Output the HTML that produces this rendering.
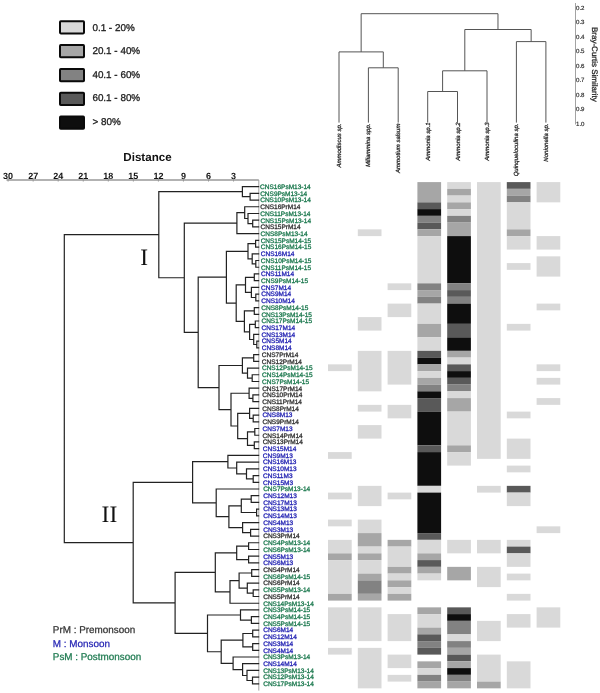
<!DOCTYPE html>
<html><head><meta charset="utf-8"><title>Foraminifera cluster heatmap</title>
<style>
html,body{margin:0;padding:0;background:#fff;}
body{width:600px;height:693px;overflow:hidden;}
svg{display:block;will-change:transform;text-rendering:geometricPrecision;font-family:"Liberation Sans",sans-serif;}
.serif{font-family:"Liberation Serif",serif;}
</style></head><body>
<svg width="600" height="693" viewBox="0 0 600 693">
<rect width="600" height="693" fill="#fff"/>
<rect x="60" y="21.2" width="24" height="12.2" rx="0.8" fill="#d9d9d9" stroke="#0a0a0a" stroke-width="2"/>
<text x="92.4" y="30.6" font-size="9.9" fill="#222" stroke="#222" stroke-width="0.3">0.1 - 20%</text>
<rect x="60" y="45.1" width="24" height="12.2" rx="0.8" fill="#a6a6a6" stroke="#0a0a0a" stroke-width="2"/>
<text x="92.4" y="53.5" font-size="9.9" fill="#222" stroke="#222" stroke-width="0.3">20.1 - 40%</text>
<rect x="60" y="69" width="24" height="12.2" rx="0.8" fill="#828282" stroke="#0a0a0a" stroke-width="2"/>
<text x="92.4" y="78.4" font-size="9.9" fill="#222" stroke="#222" stroke-width="0.3">40.1 - 60%</text>
<rect x="60" y="92.8" width="24" height="12.2" rx="0.8" fill="#595959" stroke="#0a0a0a" stroke-width="2"/>
<text x="92.4" y="101.1" font-size="9.9" fill="#222" stroke="#222" stroke-width="0.3">60.1 - 80%</text>
<rect x="60" y="116.6" width="24" height="12.2" rx="0.8" fill="#0e0e0e" stroke="#0a0a0a" stroke-width="2"/>
<text x="92.4" y="125.4" font-size="9.9" fill="#222" stroke="#222" stroke-width="0.3">&gt; 80%</text>
<text x="123.3" y="160.8" font-size="11.6" font-weight="bold" fill="#111">Distance</text>
<text x="8.1" y="179.1" font-size="9" font-weight="bold" text-anchor="middle" fill="#111">30</text>
<line x1="8.1" y1="177.8" x2="8.1" y2="181.5" stroke="#777" stroke-width="0.8"/>
<text x="33.15" y="179.1" font-size="9" font-weight="bold" text-anchor="middle" fill="#111">27</text>
<line x1="33.15" y1="177.8" x2="33.15" y2="181.5" stroke="#777" stroke-width="0.8"/>
<text x="58.2" y="179.1" font-size="9" font-weight="bold" text-anchor="middle" fill="#111">24</text>
<line x1="58.2" y1="177.8" x2="58.2" y2="181.5" stroke="#777" stroke-width="0.8"/>
<text x="83.25" y="179.1" font-size="9" font-weight="bold" text-anchor="middle" fill="#111">21</text>
<line x1="83.25" y1="177.8" x2="83.25" y2="181.5" stroke="#777" stroke-width="0.8"/>
<text x="108.3" y="179.1" font-size="9" font-weight="bold" text-anchor="middle" fill="#111">18</text>
<line x1="108.3" y1="177.8" x2="108.3" y2="181.5" stroke="#777" stroke-width="0.8"/>
<text x="133.35" y="179.1" font-size="9" font-weight="bold" text-anchor="middle" fill="#111">15</text>
<line x1="133.35" y1="177.8" x2="133.35" y2="181.5" stroke="#777" stroke-width="0.8"/>
<text x="158.4" y="179.1" font-size="9" font-weight="bold" text-anchor="middle" fill="#111">12</text>
<line x1="158.4" y1="177.8" x2="158.4" y2="181.5" stroke="#777" stroke-width="0.8"/>
<text x="183.45" y="179.1" font-size="9" font-weight="bold" text-anchor="middle" fill="#111">9</text>
<line x1="183.45" y1="177.8" x2="183.45" y2="181.5" stroke="#777" stroke-width="0.8"/>
<text x="208.5" y="179.1" font-size="9" font-weight="bold" text-anchor="middle" fill="#111">6</text>
<line x1="208.5" y1="177.8" x2="208.5" y2="181.5" stroke="#777" stroke-width="0.8"/>
<text x="233.55" y="179.1" font-size="9" font-weight="bold" text-anchor="middle" fill="#111">3</text>
<line x1="233.55" y1="177.8" x2="233.55" y2="181.5" stroke="#777" stroke-width="0.8"/>
<line x1="6.5" y1="180" x2="258.8" y2="180" stroke="#999" stroke-width="1.3"/>
<line x1="258.8" y1="180" x2="258.8" y2="690.6" stroke="#9a9a9a" stroke-width="0.9"/>
<path d="M250.1 193.32L250.1 200.04M250.1 193.32L258.6 193.32M250.1 200.04L258.6 200.04M242.4 186.6L242.4 196.68M242.4 186.6L258.6 186.6M242.4 196.68L250.1 196.68M252.7 220.2L252.7 226.92M252.7 220.2L258.6 220.2M252.7 226.92L258.6 226.92M248 213.48L248 223.56M248 213.48L258.6 213.48M248 223.56L252.7 223.56M244.7 206.76L244.7 218.52M244.7 206.76L258.6 206.76M244.7 218.52L248 218.52M236.9 212.64L236.9 233.64M236.9 212.64L244.7 212.64M236.9 233.64L258.6 233.64M255.6 240.36L255.6 247.08M255.6 240.36L258.6 240.36M255.6 247.08L258.6 247.08M255.8 260.52L255.8 267.24M255.8 260.52L258.6 260.52M255.8 267.24L258.6 267.24M252.2 253.8L252.2 263.88M252.2 253.8L258.6 253.8M252.2 263.88L255.8 263.88M248 243.72L248 258.84M248 243.72L255.6 243.72M248 258.84L252.2 258.84M254.3 273.96L254.3 280.68M254.3 273.96L258.6 273.96M254.3 280.68L258.6 280.68M255.8 294.12L255.8 300.84M255.8 294.12L258.6 294.12M255.8 300.84L258.6 300.84M251.4 287.4L251.4 297.48M251.4 287.4L258.6 287.4M251.4 297.48L255.8 297.48M245.5 277.32L245.5 292.44M245.5 277.32L254.3 277.32M245.5 292.44L251.4 292.44M254.3 307.56L254.3 314.28M254.3 307.56L258.6 307.56M254.3 314.28L258.6 314.28M255.3 321L255.3 327.72M255.3 321L258.6 321M255.3 327.72L258.6 327.72M256.8 341.16L256.8 347.88M256.8 341.16L258.6 341.16M256.8 347.88L258.6 347.88M253.7 334.44L253.7 344.52M253.7 334.44L258.6 334.44M253.7 344.52L256.8 344.52M249.6 324.36L249.6 339.48M249.6 324.36L255.3 324.36M249.6 339.48L253.7 339.48M244.4 310.92L244.4 331.92M244.4 310.92L254.3 310.92M244.4 331.92L249.6 331.92M236.2 284.88L236.2 321.42M236.2 284.88L245.5 284.88M236.2 321.42L244.4 321.42M226.4 251.28L226.4 303.15M226.4 251.28L248 251.28M226.4 303.15L236.2 303.15M253.7 354.6L253.7 361.32M253.7 354.6L258.6 354.6M253.7 361.32L258.6 361.32M252.2 374.76L252.2 381.48M252.2 374.76L258.6 374.76M252.2 381.48L258.6 381.48M247.5 368.04L247.5 378.12M247.5 368.04L258.6 368.04M247.5 378.12L252.2 378.12M242.4 357.96L242.4 373.08M242.4 357.96L253.7 357.96M242.4 373.08L247.5 373.08M252.9 394.92L252.9 401.64M252.9 394.92L258.6 394.92M252.9 401.64L258.6 401.64M249.1 388.2L249.1 398.28M249.1 388.2L258.6 388.2M249.1 398.28L252.9 398.28M253.2 415.08L253.2 421.8M253.2 415.08L258.6 415.08M253.2 421.8L258.6 421.8M249.6 408.36L249.6 418.44M249.6 408.36L258.6 408.36M249.6 418.44L253.2 418.44M254.8 428.52L254.8 435.24M254.8 428.52L258.6 428.52M254.8 435.24L258.6 435.24M254.3 441.96L254.3 448.68M254.3 441.96L258.6 441.96M254.3 448.68L258.6 448.68M247.5 431.88L247.5 445.32M247.5 431.88L254.8 431.88M247.5 445.32L254.3 445.32M237.7 413.4L237.7 438.6M237.7 413.4L249.6 413.4M237.7 438.6L247.5 438.6M231 393.24L231 426M231 393.24L249.1 393.24M231 426L237.7 426M219 365.52L219 409.62M219 365.52L242.4 365.52M219 409.62L231 409.62M198.2 277.21L198.2 387.57M198.2 277.21L226.4 277.21M198.2 387.57L219 387.57M184.3 223.14L184.3 332.39M184.3 223.14L236.9 223.14M184.3 332.39L198.2 332.39M158.8 191.64L158.8 277.77M158.8 191.64L242.4 191.64M158.8 277.77L184.3 277.77M253.2 475.56L253.2 482.28M253.2 475.56L258.6 475.56M253.2 482.28L258.6 482.28M246.5 468.84L246.5 478.92M246.5 468.84L258.6 468.84M246.5 478.92L253.2 478.92M236.7 462.12L236.7 473.88M236.7 462.12L258.6 462.12M236.7 473.88L246.5 473.88M227.9 455.4L227.9 468M227.9 455.4L258.6 455.4M227.9 468L236.7 468M251.2 495.72L251.2 502.44M251.2 495.72L258.6 495.72M251.2 502.44L258.6 502.44M256.6 509.16L256.6 515.88M256.6 509.16L258.6 509.16M256.6 515.88L258.6 515.88M241.3 499.08L241.3 512.52M241.3 499.08L251.2 499.08M241.3 512.52L256.6 512.52M250.6 529.32L250.6 536.04M250.6 529.32L258.6 529.32M250.6 536.04L258.6 536.04M242.6 522.6L242.6 532.68M242.6 522.6L258.6 522.6M242.6 532.68L250.6 532.68M228.9 505.8L228.9 527.64M228.9 505.8L241.3 505.8M228.9 527.64L242.6 527.64M216.2 489L216.2 516.72M216.2 489L258.6 489M216.2 516.72L228.9 516.72M192.6 461.7L192.6 502.86M192.6 461.7L227.9 461.7M192.6 502.86L216.2 502.86M248.6 542.76L248.6 549.48M248.6 542.76L258.6 542.76M248.6 549.48L258.6 549.48M248.6 556.2L248.6 562.92M248.6 556.2L258.6 556.2M248.6 562.92L258.6 562.92M236.7 546.12L236.7 559.56M236.7 546.12L248.6 546.12M236.7 559.56L248.6 559.56M251.7 569.64L251.7 576.36M251.7 569.64L258.6 569.64M251.7 576.36L258.6 576.36M253.2 589.8L253.2 596.52M253.2 589.8L258.6 589.8M253.2 596.52L258.6 596.52M247.3 583.08L247.3 593.16M247.3 583.08L258.6 583.08M247.3 593.16L253.2 593.16M239.1 573L239.1 588.12M239.1 573L251.7 573M239.1 588.12L247.3 588.12M230 580.56L230 603.24M230 580.56L239.1 580.56M230 603.24L258.6 603.24M215.3 552.84L215.3 591.9M215.3 552.84L236.7 552.84M215.3 591.9L230 591.9M251.4 616.68L251.4 623.4M251.4 616.68L258.6 616.68M251.4 623.4L258.6 623.4M240.5 609.96L240.5 620.04M240.5 609.96L258.6 609.96M240.5 620.04L251.4 620.04M252.7 630.12L252.7 636.84M252.7 630.12L258.6 630.12M252.7 636.84L258.6 636.84M252.7 643.56L252.7 650.28M252.7 643.56L258.6 643.56M252.7 650.28L258.6 650.28M242.9 633.48L242.9 646.92M242.9 633.48L252.7 633.48M242.9 646.92L252.7 646.92M252.5 677.16L252.5 683.88M252.5 677.16L258.6 677.16M252.5 683.88L258.6 683.88M247 670.44L247 680.52M247 670.44L258.6 670.44M247 680.52L252.5 680.52M242.6 663.72L242.6 675.48M242.6 663.72L258.6 663.72M242.6 675.48L247 675.48M233.1 657L233.1 669.6M233.1 657L258.6 657M233.1 669.6L242.6 669.6M221.2 640.2L221.2 663.3M221.2 640.2L242.9 640.2M221.2 663.3L233.1 663.3M207.5 615L207.5 651.75M207.5 615L240.5 615M207.5 651.75L221.2 651.75M175.1 572.37L175.1 633.38M175.1 572.37L215.3 572.37M175.1 633.38L207.5 633.38M133.2 482.28L133.2 602.87M133.2 482.28L192.6 482.28M133.2 602.87L175.1 602.87M64.3 234.7L64.3 542.58M64.3 234.7L158.8 234.7M64.3 542.58L133.2 542.58" stroke="#222" stroke-width="1.2" fill="none" stroke-linecap="square"/>
<text class="serif" x="140.3" y="265" font-size="23.5" fill="#111">I</text>
<text class="serif" x="101.6" y="522" font-size="23.5" fill="#111">II</text>
<g font-size="6.5" stroke-width="0.3">
<text x="260.1" y="188.9" fill="#1e7a50" stroke="#1e7a50">CNS16PsM13-14</text>
<text x="260.17" y="195.62" fill="#1e7a50" stroke="#1e7a50">CNS9PsM13-14</text>
<text x="260.24" y="202.34" fill="#1e7a50" stroke="#1e7a50">CNS10PsM13-14</text>
<text x="260.3" y="209.06" fill="#333333" stroke="#333333">CNS16PrM14</text>
<text x="260.37" y="215.78" fill="#1e7a50" stroke="#1e7a50">CNS11PsM13-14</text>
<text x="260.44" y="222.5" fill="#1e7a50" stroke="#1e7a50">CNS15PsM13-14</text>
<text x="260.51" y="229.22" fill="#333333" stroke="#333333">CNS15PrM14</text>
<text x="260.58" y="235.94" fill="#1e7a50" stroke="#1e7a50">CNS8PsM13-14</text>
<text x="260.64" y="242.66" fill="#1e7a50" stroke="#1e7a50">CNS15PsM14-15</text>
<text x="260.71" y="249.38" fill="#1e7a50" stroke="#1e7a50">CNS16PsM14-15</text>
<text x="260.78" y="256.1" fill="#2626b4" stroke="#2626b4">CNS16M14</text>
<text x="260.85" y="262.82" fill="#1e7a50" stroke="#1e7a50">CNS10PsM14-15</text>
<text x="260.92" y="269.54" fill="#1e7a50" stroke="#1e7a50">CNS11PsM14-15</text>
<text x="260.98" y="276.26" fill="#2626b4" stroke="#2626b4">CNS11M14</text>
<text x="261.05" y="282.98" fill="#1e7a50" stroke="#1e7a50">CNS9PsM14-15</text>
<text x="261.12" y="289.7" fill="#2626b4" stroke="#2626b4">CNS7M14</text>
<text x="261.19" y="296.42" fill="#2626b4" stroke="#2626b4">CNS9M14</text>
<text x="261.26" y="303.14" fill="#2626b4" stroke="#2626b4">CNS10M14</text>
<text x="261.32" y="309.86" fill="#1e7a50" stroke="#1e7a50">CNS8PsM14-15</text>
<text x="261.39" y="316.58" fill="#1e7a50" stroke="#1e7a50">CNS13PsM14-15</text>
<text x="261.46" y="323.3" fill="#1e7a50" stroke="#1e7a50">CNS17PsM14-15</text>
<text x="261.53" y="330.02" fill="#2626b4" stroke="#2626b4">CNS17M14</text>
<text x="261.6" y="336.74" fill="#2626b4" stroke="#2626b4">CNS13M14</text>
<text x="261.66" y="343.46" fill="#2626b4" stroke="#2626b4">CNS5M14</text>
<text x="261.73" y="350.18" fill="#2626b4" stroke="#2626b4">CNS8M14</text>
<text x="261.8" y="356.9" fill="#333333" stroke="#333333">CNS7PrM14</text>
<text x="261.87" y="363.62" fill="#333333" stroke="#333333">CNS12PrM14</text>
<text x="261.94" y="370.34" fill="#1e7a50" stroke="#1e7a50">CNS12PsM14-15</text>
<text x="262" y="377.06" fill="#1e7a50" stroke="#1e7a50">CNS14PsM14-15</text>
<text x="262.07" y="383.78" fill="#1e7a50" stroke="#1e7a50">CNS7PsM14-15</text>
<text x="262.14" y="390.5" fill="#333333" stroke="#333333">CNS17PrM14</text>
<text x="262.21" y="397.22" fill="#333333" stroke="#333333">CNS10PrM14</text>
<text x="262.28" y="403.94" fill="#333333" stroke="#333333">CNS11PrM14</text>
<text x="262.34" y="410.66" fill="#333333" stroke="#333333">CNS8PrM14</text>
<text x="262.41" y="417.38" fill="#2626b4" stroke="#2626b4">CNS8M13</text>
<text x="262.48" y="424.1" fill="#333333" stroke="#333333">CNS9PrM14</text>
<text x="262.55" y="430.82" fill="#2626b4" stroke="#2626b4">CNS7M13</text>
<text x="262.62" y="437.54" fill="#333333" stroke="#333333">CNS14PrM14</text>
<text x="262.68" y="444.26" fill="#333333" stroke="#333333">CNS13PrM14</text>
<text x="262.75" y="450.98" fill="#2626b4" stroke="#2626b4">CNS15M14</text>
<text x="262.82" y="457.7" fill="#2626b4" stroke="#2626b4">CNS9M13</text>
<text x="262.89" y="464.42" fill="#2626b4" stroke="#2626b4">CNS16M13</text>
<text x="262.96" y="471.14" fill="#2626b4" stroke="#2626b4">CNS10M13</text>
<text x="263.02" y="477.86" fill="#2626b4" stroke="#2626b4">CNS11M3</text>
<text x="263.09" y="484.58" fill="#2626b4" stroke="#2626b4">CNS15M3</text>
<text x="263.16" y="491.3" fill="#1e7a50" stroke="#1e7a50">CNS7PsM13-14</text>
<text x="263.23" y="498.02" fill="#2626b4" stroke="#2626b4">CNS12M13</text>
<text x="263.23" y="504.74" fill="#2626b4" stroke="#2626b4">CNS17M13</text>
<text x="263.23" y="511.46" fill="#2626b4" stroke="#2626b4">CNS13M13</text>
<text x="263.23" y="518.18" fill="#2626b4" stroke="#2626b4">CNS14M13</text>
<text x="263.23" y="524.9" fill="#2626b4" stroke="#2626b4">CNS4M13</text>
<text x="263.23" y="531.62" fill="#2626b4" stroke="#2626b4">CNS3M13</text>
<text x="263.23" y="538.34" fill="#333333" stroke="#333333">CNS3PrM14</text>
<text x="263.23" y="545.06" fill="#1e7a50" stroke="#1e7a50">CNS4PsM13-14</text>
<text x="263.23" y="551.78" fill="#1e7a50" stroke="#1e7a50">CNS6PsM13-14</text>
<text x="263.23" y="558.5" fill="#2626b4" stroke="#2626b4">CNS5M13</text>
<text x="263.23" y="565.22" fill="#2626b4" stroke="#2626b4">CNS6M13</text>
<text x="263.23" y="571.94" fill="#333333" stroke="#333333">CNS4PrM14</text>
<text x="263.23" y="578.66" fill="#1e7a50" stroke="#1e7a50">CNS6PsM14-15</text>
<text x="263.23" y="585.38" fill="#333333" stroke="#333333">CNS6PrM14</text>
<text x="263.23" y="592.1" fill="#1e7a50" stroke="#1e7a50">CNS5PsM13-14</text>
<text x="263.23" y="598.82" fill="#333333" stroke="#333333">CNS5PrM14</text>
<text x="263.23" y="605.54" fill="#1e7a50" stroke="#1e7a50">CNS14PsM13-14</text>
<text x="263.23" y="612.26" fill="#1e7a50" stroke="#1e7a50">CNS3PsM14-15</text>
<text x="263.23" y="618.98" fill="#1e7a50" stroke="#1e7a50">CNS4PsM14-15</text>
<text x="263.23" y="625.7" fill="#1e7a50" stroke="#1e7a50">CNS5PsM14-15</text>
<text x="263.23" y="632.42" fill="#2626b4" stroke="#2626b4">CNS6M14</text>
<text x="263.23" y="639.14" fill="#2626b4" stroke="#2626b4">CNS12M14</text>
<text x="263.23" y="645.86" fill="#2626b4" stroke="#2626b4">CNS3M14</text>
<text x="263.23" y="652.58" fill="#2626b4" stroke="#2626b4">CNS4M14</text>
<text x="263.23" y="659.3" fill="#1e7a50" stroke="#1e7a50">CNS3PsM13-14</text>
<text x="263.23" y="666.02" fill="#2626b4" stroke="#2626b4">CNS14M14</text>
<text x="263.23" y="672.74" fill="#1e7a50" stroke="#1e7a50">CNS13PsM13-14</text>
<text x="263.23" y="679.46" fill="#1e7a50" stroke="#1e7a50">CNS12PsM13-14</text>
<text x="263.23" y="686.18" fill="#1e7a50" stroke="#1e7a50">CNS17PsM13-14</text>
</g>
<text x="52.8" y="633.4" font-size="9.9" fill="#333" stroke="#333" stroke-width="0.25">PrM : Premonsoon</text>
<text x="52.8" y="646.7" font-size="9.9" fill="#2626b4" stroke="#2626b4" stroke-width="0.25">M : Monsoon</text>
<text x="52.8" y="660" font-size="9.9" fill="#1e7a50" stroke="#1e7a50" stroke-width="0.25">PsM : Postmonsoon</text>
<rect x="328" y="364.35" width="23.7" height="6.75" fill="#d9d9d9"/>
<rect x="328" y="452.1" width="23.7" height="6.75" fill="#d9d9d9"/>
<rect x="328" y="492.6" width="23.7" height="6.75" fill="#d9d9d9"/>
<rect x="328" y="519.6" width="23.7" height="6.75" fill="#d9d9d9"/>
<rect x="328" y="539.85" width="23.7" height="13.5" fill="#d9d9d9"/>
<rect x="328" y="553.35" width="23.7" height="6.75" fill="#a6a6a6"/>
<rect x="328" y="560.1" width="23.7" height="33.75" fill="#d9d9d9"/>
<rect x="328" y="593.85" width="23.7" height="6.75" fill="#a6a6a6"/>
<rect x="328" y="607.35" width="23.7" height="33.75" fill="#d9d9d9"/>
<rect x="328" y="647.85" width="23.7" height="6.75" fill="#d9d9d9"/>
<rect x="357.8" y="229.35" width="23.7" height="6.75" fill="#d9d9d9"/>
<rect x="357.8" y="317.1" width="23.7" height="13.5" fill="#d9d9d9"/>
<rect x="357.8" y="350.85" width="23.7" height="40.5" fill="#d9d9d9"/>
<rect x="357.8" y="404.85" width="23.7" height="6.75" fill="#d9d9d9"/>
<rect x="357.8" y="425.1" width="23.7" height="13.5" fill="#d9d9d9"/>
<rect x="357.8" y="485.85" width="23.7" height="20.25" fill="#d9d9d9"/>
<rect x="357.8" y="519.6" width="23.7" height="13.5" fill="#d9d9d9"/>
<rect x="357.8" y="533.1" width="23.7" height="13.5" fill="#a6a6a6"/>
<rect x="357.8" y="546.6" width="23.7" height="6.75" fill="#d9d9d9"/>
<rect x="357.8" y="553.35" width="23.7" height="6.75" fill="#a6a6a6"/>
<rect x="357.8" y="560.1" width="23.7" height="13.5" fill="#d9d9d9"/>
<rect x="357.8" y="573.6" width="23.7" height="6.75" fill="#a6a6a6"/>
<rect x="357.8" y="580.35" width="23.7" height="13.5" fill="#828282"/>
<rect x="357.8" y="593.85" width="23.7" height="6.75" fill="#a6a6a6"/>
<rect x="357.8" y="607.35" width="23.7" height="33.75" fill="#d9d9d9"/>
<rect x="357.8" y="647.85" width="23.7" height="40.5" fill="#d9d9d9"/>
<rect x="387.6" y="283.35" width="23.7" height="6.75" fill="#d9d9d9"/>
<rect x="387.6" y="303.6" width="23.7" height="13.5" fill="#d9d9d9"/>
<rect x="387.6" y="350.85" width="23.7" height="33.75" fill="#d9d9d9"/>
<rect x="387.6" y="404.85" width="23.7" height="13.5" fill="#d9d9d9"/>
<rect x="387.6" y="492.6" width="23.7" height="6.75" fill="#d9d9d9"/>
<rect x="387.6" y="539.85" width="23.7" height="6.75" fill="#a6a6a6"/>
<rect x="387.6" y="546.6" width="23.7" height="20.25" fill="#d9d9d9"/>
<rect x="387.6" y="566.85" width="23.7" height="6.75" fill="#a6a6a6"/>
<rect x="387.6" y="573.6" width="23.7" height="6.75" fill="#d9d9d9"/>
<rect x="387.6" y="580.35" width="23.7" height="6.75" fill="#a6a6a6"/>
<rect x="387.6" y="587.1" width="23.7" height="6.75" fill="#d9d9d9"/>
<rect x="387.6" y="593.85" width="23.7" height="6.75" fill="#a6a6a6"/>
<rect x="387.6" y="614.1" width="23.7" height="27" fill="#d9d9d9"/>
<rect x="387.6" y="654.6" width="23.7" height="13.5" fill="#d9d9d9"/>
<rect x="387.6" y="674.85" width="23.7" height="6.75" fill="#d9d9d9"/>
<rect x="417.4" y="182.1" width="23.7" height="20.25" fill="#a6a6a6"/>
<rect x="417.4" y="202.35" width="23.7" height="6.75" fill="#595959"/>
<rect x="417.4" y="209.1" width="23.7" height="6.75" fill="#0e0e0e"/>
<rect x="417.4" y="215.85" width="23.7" height="6.75" fill="#828282"/>
<rect x="417.4" y="222.6" width="23.7" height="6.75" fill="#595959"/>
<rect x="417.4" y="229.35" width="23.7" height="6.75" fill="#a6a6a6"/>
<rect x="417.4" y="236.1" width="23.7" height="47.25" fill="#d9d9d9"/>
<rect x="417.4" y="283.35" width="23.7" height="6.75" fill="#828282"/>
<rect x="417.4" y="290.1" width="23.7" height="6.75" fill="#a6a6a6"/>
<rect x="417.4" y="296.85" width="23.7" height="6.75" fill="#828282"/>
<rect x="417.4" y="303.6" width="23.7" height="20.25" fill="#d9d9d9"/>
<rect x="417.4" y="323.85" width="23.7" height="13.5" fill="#a6a6a6"/>
<rect x="417.4" y="337.35" width="23.7" height="13.5" fill="#d9d9d9"/>
<rect x="417.4" y="350.85" width="23.7" height="6.75" fill="#595959"/>
<rect x="417.4" y="357.6" width="23.7" height="6.75" fill="#0e0e0e"/>
<rect x="417.4" y="364.35" width="23.7" height="6.75" fill="#a6a6a6"/>
<rect x="417.4" y="371.1" width="23.7" height="6.75" fill="#d9d9d9"/>
<rect x="417.4" y="377.85" width="23.7" height="6.75" fill="#a6a6a6"/>
<rect x="417.4" y="384.6" width="23.7" height="6.75" fill="#828282"/>
<rect x="417.4" y="391.35" width="23.7" height="6.75" fill="#0e0e0e"/>
<rect x="417.4" y="398.1" width="23.7" height="13.5" fill="#595959"/>
<rect x="417.4" y="411.6" width="23.7" height="33.75" fill="#0e0e0e"/>
<rect x="417.4" y="445.35" width="23.7" height="6.75" fill="#595959"/>
<rect x="417.4" y="452.1" width="23.7" height="33.75" fill="#0e0e0e"/>
<rect x="417.4" y="485.85" width="23.7" height="6.75" fill="#d9d9d9"/>
<rect x="417.4" y="492.6" width="23.7" height="40.5" fill="#0e0e0e"/>
<rect x="417.4" y="533.1" width="23.7" height="6.75" fill="#595959"/>
<rect x="417.4" y="539.85" width="23.7" height="13.5" fill="#d9d9d9"/>
<rect x="417.4" y="553.35" width="23.7" height="6.75" fill="#a6a6a6"/>
<rect x="417.4" y="560.1" width="23.7" height="6.75" fill="#595959"/>
<rect x="417.4" y="566.85" width="23.7" height="6.75" fill="#a6a6a6"/>
<rect x="417.4" y="573.6" width="23.7" height="6.75" fill="#d9d9d9"/>
<rect x="417.4" y="607.35" width="23.7" height="6.75" fill="#a6a6a6"/>
<rect x="417.4" y="614.1" width="23.7" height="13.5" fill="#d9d9d9"/>
<rect x="417.4" y="627.6" width="23.7" height="6.75" fill="#a6a6a6"/>
<rect x="417.4" y="634.35" width="23.7" height="6.75" fill="#595959"/>
<rect x="417.4" y="641.1" width="23.7" height="6.75" fill="#828282"/>
<rect x="417.4" y="647.85" width="23.7" height="6.75" fill="#595959"/>
<rect x="417.4" y="661.35" width="23.7" height="6.75" fill="#a6a6a6"/>
<rect x="417.4" y="668.1" width="23.7" height="6.75" fill="#d9d9d9"/>
<rect x="417.4" y="674.85" width="23.7" height="6.75" fill="#828282"/>
<rect x="417.4" y="681.6" width="23.7" height="6.75" fill="#a6a6a6"/>
<rect x="447.2" y="182.1" width="23.7" height="6.75" fill="#d9d9d9"/>
<rect x="447.2" y="188.85" width="23.7" height="6.75" fill="#a6a6a6"/>
<rect x="447.2" y="195.6" width="23.7" height="6.75" fill="#d9d9d9"/>
<rect x="447.2" y="202.35" width="23.7" height="6.75" fill="#a6a6a6"/>
<rect x="447.2" y="209.1" width="23.7" height="6.75" fill="#d9d9d9"/>
<rect x="447.2" y="215.85" width="23.7" height="6.75" fill="#828282"/>
<rect x="447.2" y="222.6" width="23.7" height="13.5" fill="#a6a6a6"/>
<rect x="447.2" y="236.1" width="23.7" height="47.25" fill="#0e0e0e"/>
<rect x="447.2" y="283.35" width="23.7" height="6.75" fill="#828282"/>
<rect x="447.2" y="290.1" width="23.7" height="6.75" fill="#595959"/>
<rect x="447.2" y="296.85" width="23.7" height="6.75" fill="#828282"/>
<rect x="447.2" y="303.6" width="23.7" height="20.25" fill="#0e0e0e"/>
<rect x="447.2" y="323.85" width="23.7" height="13.5" fill="#595959"/>
<rect x="447.2" y="337.35" width="23.7" height="13.5" fill="#0e0e0e"/>
<rect x="447.2" y="350.85" width="23.7" height="6.75" fill="#a6a6a6"/>
<rect x="447.2" y="357.6" width="23.7" height="6.75" fill="#d9d9d9"/>
<rect x="447.2" y="364.35" width="23.7" height="6.75" fill="#595959"/>
<rect x="447.2" y="371.1" width="23.7" height="6.75" fill="#0e0e0e"/>
<rect x="447.2" y="377.85" width="23.7" height="6.75" fill="#595959"/>
<rect x="447.2" y="384.6" width="23.7" height="6.75" fill="#828282"/>
<rect x="447.2" y="391.35" width="23.7" height="6.75" fill="#d9d9d9"/>
<rect x="447.2" y="398.1" width="23.7" height="13.5" fill="#a6a6a6"/>
<rect x="447.2" y="411.6" width="23.7" height="33.75" fill="#d9d9d9"/>
<rect x="447.2" y="445.35" width="23.7" height="6.75" fill="#a6a6a6"/>
<rect x="447.2" y="452.1" width="23.7" height="13.5" fill="#d9d9d9"/>
<rect x="447.2" y="539.85" width="23.7" height="13.5" fill="#d9d9d9"/>
<rect x="447.2" y="566.85" width="23.7" height="13.5" fill="#a6a6a6"/>
<rect x="447.2" y="607.35" width="23.7" height="6.75" fill="#595959"/>
<rect x="447.2" y="614.1" width="23.7" height="6.75" fill="#0e0e0e"/>
<rect x="447.2" y="620.85" width="23.7" height="13.5" fill="#828282"/>
<rect x="447.2" y="634.35" width="23.7" height="6.75" fill="#d9d9d9"/>
<rect x="447.2" y="641.1" width="23.7" height="6.75" fill="#828282"/>
<rect x="447.2" y="647.85" width="23.7" height="6.75" fill="#a6a6a6"/>
<rect x="447.2" y="654.6" width="23.7" height="6.75" fill="#595959"/>
<rect x="447.2" y="661.35" width="23.7" height="6.75" fill="#a6a6a6"/>
<rect x="447.2" y="668.1" width="23.7" height="6.75" fill="#0e0e0e"/>
<rect x="447.2" y="674.85" width="23.7" height="6.75" fill="#828282"/>
<rect x="447.2" y="681.6" width="23.7" height="6.75" fill="#a6a6a6"/>
<rect x="477" y="182.1" width="23.7" height="276.75" fill="#d9d9d9"/>
<rect x="477" y="485.85" width="23.7" height="6.75" fill="#d9d9d9"/>
<rect x="477" y="539.85" width="23.7" height="13.5" fill="#d9d9d9"/>
<rect x="477" y="566.85" width="23.7" height="20.25" fill="#d9d9d9"/>
<rect x="477" y="620.85" width="23.7" height="20.25" fill="#d9d9d9"/>
<rect x="477" y="654.6" width="23.7" height="27" fill="#d9d9d9"/>
<rect x="477" y="681.6" width="23.7" height="6.75" fill="#a6a6a6"/>
<rect x="506.8" y="182.1" width="23.7" height="6.75" fill="#595959"/>
<rect x="506.8" y="188.85" width="23.7" height="6.75" fill="#a6a6a6"/>
<rect x="506.8" y="195.6" width="23.7" height="6.75" fill="#828282"/>
<rect x="506.8" y="202.35" width="23.7" height="27" fill="#d9d9d9"/>
<rect x="506.8" y="229.35" width="23.7" height="6.75" fill="#a6a6a6"/>
<rect x="506.8" y="236.1" width="23.7" height="13.5" fill="#d9d9d9"/>
<rect x="506.8" y="263.1" width="23.7" height="6.75" fill="#d9d9d9"/>
<rect x="506.8" y="323.85" width="23.7" height="6.75" fill="#d9d9d9"/>
<rect x="506.8" y="411.6" width="23.7" height="6.75" fill="#d9d9d9"/>
<rect x="506.8" y="438.6" width="23.7" height="20.25" fill="#d9d9d9"/>
<rect x="506.8" y="465.6" width="23.7" height="6.75" fill="#d9d9d9"/>
<rect x="506.8" y="485.85" width="23.7" height="6.75" fill="#595959"/>
<rect x="506.8" y="492.6" width="23.7" height="13.5" fill="#d9d9d9"/>
<rect x="506.8" y="539.85" width="23.7" height="6.75" fill="#d9d9d9"/>
<rect x="506.8" y="546.6" width="23.7" height="6.75" fill="#595959"/>
<rect x="506.8" y="553.35" width="23.7" height="13.5" fill="#d9d9d9"/>
<rect x="506.8" y="573.6" width="23.7" height="6.75" fill="#d9d9d9"/>
<rect x="506.8" y="593.85" width="23.7" height="6.75" fill="#d9d9d9"/>
<rect x="506.8" y="614.1" width="23.7" height="13.5" fill="#d9d9d9"/>
<rect x="506.8" y="661.35" width="23.7" height="27" fill="#d9d9d9"/>
<rect x="536.6" y="182.1" width="23.7" height="20.25" fill="#d9d9d9"/>
<rect x="536.6" y="236.1" width="23.7" height="13.5" fill="#d9d9d9"/>
<rect x="536.6" y="256.35" width="23.7" height="20.25" fill="#d9d9d9"/>
<rect x="536.6" y="303.6" width="23.7" height="6.75" fill="#d9d9d9"/>
<rect x="536.6" y="364.35" width="23.7" height="6.75" fill="#d9d9d9"/>
<rect x="536.6" y="377.85" width="23.7" height="6.75" fill="#d9d9d9"/>
<rect x="536.6" y="398.1" width="23.7" height="6.75" fill="#d9d9d9"/>
<rect x="536.6" y="526.35" width="23.7" height="6.75" fill="#d9d9d9"/>
<rect x="536.6" y="607.35" width="23.7" height="20.25" fill="#d9d9d9"/>
<path d="M368.4 122.6L368.4 67.8L398.2 67.8L398.2 122.6M339 122.6L339 51.9L383.3 51.9L383.3 67.8M427.7 122.6L427.7 91.5L457.5 91.5L457.5 122.6M442.6 91.5L442.6 70.8L487 70.8L487 122.6M516.4 122.6L516.4 41.6L545.9 41.6L545.9 122.6M464.8 70.8L464.8 29.5L531.15 29.5L531.15 41.6M361.15 51.9L361.15 13.7L497.98 13.7L497.98 29.5" stroke="#555" stroke-width="1" fill="none"/>
<text transform="translate(341 123.6) rotate(-90)" text-anchor="end" font-size="6" font-style="italic" fill="#222" stroke="#222" stroke-width="0.25">Ammodiscus sp.</text>
<text transform="translate(370.4 123.6) rotate(-90)" text-anchor="end" font-size="6" font-style="italic" fill="#222" stroke="#222" stroke-width="0.25">Miliammina spp.</text>
<text transform="translate(400.2 123.6) rotate(-90)" text-anchor="end" font-size="6" font-style="italic" fill="#222" stroke="#222" stroke-width="0.25">Ammotium salsum</text>
<text transform="translate(429.7 122.3) rotate(-90)" text-anchor="end" font-size="6" font-style="italic" fill="#222" stroke="#222" stroke-width="0.25">Ammonia sp.1</text>
<text transform="translate(459.5 122.3) rotate(-90)" text-anchor="end" font-size="6" font-style="italic" fill="#222" stroke="#222" stroke-width="0.25">Ammonia sp.2</text>
<text transform="translate(489 122.3) rotate(-90)" text-anchor="end" font-size="6" font-style="italic" fill="#222" stroke="#222" stroke-width="0.25">Ammonia sp.3</text>
<text transform="translate(518.4 123.6) rotate(-90)" text-anchor="end" font-size="6" font-style="italic" fill="#222" stroke="#222" stroke-width="0.25">Quinqueloculina sp.</text>
<text transform="translate(547.9 123.6) rotate(-90)" text-anchor="end" font-size="6" font-style="italic" fill="#222" stroke="#222" stroke-width="0.25">Nonionella sp.</text>
<line x1="575.5" y1="3" x2="575.5" y2="124.5" stroke="#999" stroke-width="0.9"/>
<text x="576" y="9.6" font-size="6.1" fill="#333" stroke="#333" stroke-width="0.2">0.2</text>
<text x="576" y="24.1" font-size="6.1" fill="#333" stroke="#333" stroke-width="0.2">0.3</text>
<text x="576" y="38.6" font-size="6.1" fill="#333" stroke="#333" stroke-width="0.2">0.4</text>
<text x="576" y="53.1" font-size="6.1" fill="#333" stroke="#333" stroke-width="0.2">0.5</text>
<text x="576" y="67.6" font-size="6.1" fill="#333" stroke="#333" stroke-width="0.2">0.6</text>
<text x="576" y="82.1" font-size="6.1" fill="#333" stroke="#333" stroke-width="0.2">0.7</text>
<text x="576" y="96.6" font-size="6.1" fill="#333" stroke="#333" stroke-width="0.2">0.8</text>
<text x="576" y="111.1" font-size="6.1" fill="#333" stroke="#333" stroke-width="0.2">0.9</text>
<text x="576" y="125.6" font-size="6.1" fill="#333" stroke="#333" stroke-width="0.2">1.0</text>
<text transform="translate(592.2 27) rotate(90)" font-size="8" fill="#222" stroke="#222" stroke-width="0.25">Bray-Curtis Similarity</text>
</svg>
</body></html>
